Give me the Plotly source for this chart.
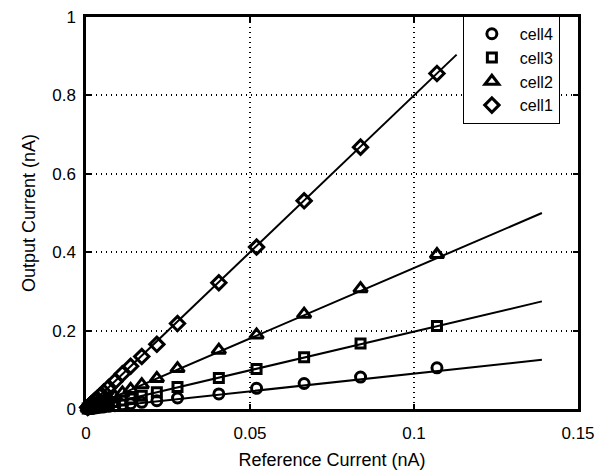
import plotly.graph_objects as go

# Reference current (nA) of the measured points
ref_current = [0.0005, 0.0008, 0.0011, 0.0015, 0.0020, 0.0026, 0.0033, 0.0042,
               0.0054, 0.0069, 0.0088, 0.0111, 0.0136, 0.0170, 0.0216, 0.0279,
               0.0405, 0.0520, 0.0665, 0.0837, 0.1070]

cell1 = [0.004, 0.006, 0.009, 0.012, 0.016, 0.021, 0.026, 0.033,
         0.043, 0.055, 0.070, 0.090, 0.109, 0.134, 0.165, 0.218,
         0.322, 0.413, 0.531, 0.668, 0.856]
cell2 = [0.002, 0.003, 0.004, 0.005, 0.007, 0.009, 0.012, 0.015,
         0.020, 0.025, 0.032, 0.041, 0.050, 0.062, 0.078, 0.103,
         0.150, 0.189, 0.242, 0.307, 0.394]
cell3 = [0.001, 0.0016, 0.0022, 0.003, 0.004, 0.005, 0.0066, 0.0084,
         0.011, 0.014, 0.018, 0.022, 0.027, 0.034, 0.043, 0.056,
         0.079, 0.102, 0.132, 0.167, 0.212]
cell4 = [0.0005, 0.0008, 0.0011, 0.0015, 0.002, 0.0026, 0.0033, 0.0042,
         0.0053, 0.0068, 0.0086, 0.011, 0.0135, 0.017, 0.021, 0.028,
         0.0385, 0.0527, 0.065, 0.0815, 0.105]

# Linear fit lines (endpoints)
fit1_x = [0, 0.113]
fit1_y = [0, 0.904]
fit_x = [0, 0.139]
fit2_y = [0, 0.500]
fit3_y = [0, 0.2745]
fit4_y = [0, 0.1255]

x_ticks = [0, 0.05, 0.1, 0.15]
x_ticktext = ["0", "0.05", "0.1", "0.15"]
y_ticks = [0, 0.2, 0.4, 0.6, 0.8, 1.0]
y_ticktext = ["0", "0.2", "0.4", "0.6", "0.8", "1"]

FONT = "Liberation Sans, Arial, Helvetica, sans-serif"

fig = go.Figure()

# fit lines
for fx, fy in [(fit1_x, fit1_y), (fit_x, fit2_y), (fit_x, fit3_y), (fit_x, fit4_y)]:
    fig.add_trace(go.Scatter(x=fx, y=fy, mode="lines",
                             line=dict(color="black", width=2),
                             showlegend=False, hoverinfo="skip"))

series = [("cell4", cell4, "circle-open", 10),
          ("cell3", cell3, "square-open", 9),
          ("cell2", cell2, "triangle-up-open", 12),
          ("cell1", cell1, "diamond-open", 11)]

for name, ys, sym, sz in series:
    fig.add_trace(go.Scatter(
        x=ref_current, y=ys, mode="markers", name=name,
        cliponaxis=False,
        marker=dict(symbol=sym, size=sz, color="black",
                    line=dict(color="black", width=3)),
    ))

axis_common = dict(
    showline=True, linecolor="black", linewidth=2.5, mirror="ticks",
    ticks="inside", ticklen=5, tickwidth=2, tickcolor="black",
    showgrid=True, gridcolor="black", griddash="1px,4px", gridwidth=1.5,
    zeroline=False,
    tickfont=dict(family=FONT, size=17, color="black"),
)

fig.update_xaxes(range=[0, 0.15], tickvals=x_ticks, ticktext=x_ticktext,
                 ticklabelstandoff=7,
                 title=dict(text="Reference Current (nA)",
                            font=dict(family=FONT, size=18, color="black"),
                            standoff=12),
                 **axis_common)
fig.update_yaxes(range=[0, 1], tickvals=y_ticks, ticktext=y_ticktext,
                 ticklabelstandoff=4,
                 title=dict(text="Output Current (nA)",
                            font=dict(family=FONT, size=18, color="black"),
                            standoff=12),
                 **axis_common)

fig.update_layout(
    width=616, height=476,
    margin=dict(l=86, r=38, t=8, b=66),
    paper_bgcolor="white", plot_bgcolor="white",
    font=dict(family=FONT, size=17, color="black"),
    legend=dict(x=0.766, y=1.003, xanchor="left", yanchor="top",
                bgcolor="white", bordercolor="black", borderwidth=1,
                font=dict(family=FONT, size=16, color="black"),
                tracegroupgap=0, itemwidth=46, entrywidth=114,
                entrywidthmode="pixels"),
    showlegend=True,
)

fig.write_html("out.html")
